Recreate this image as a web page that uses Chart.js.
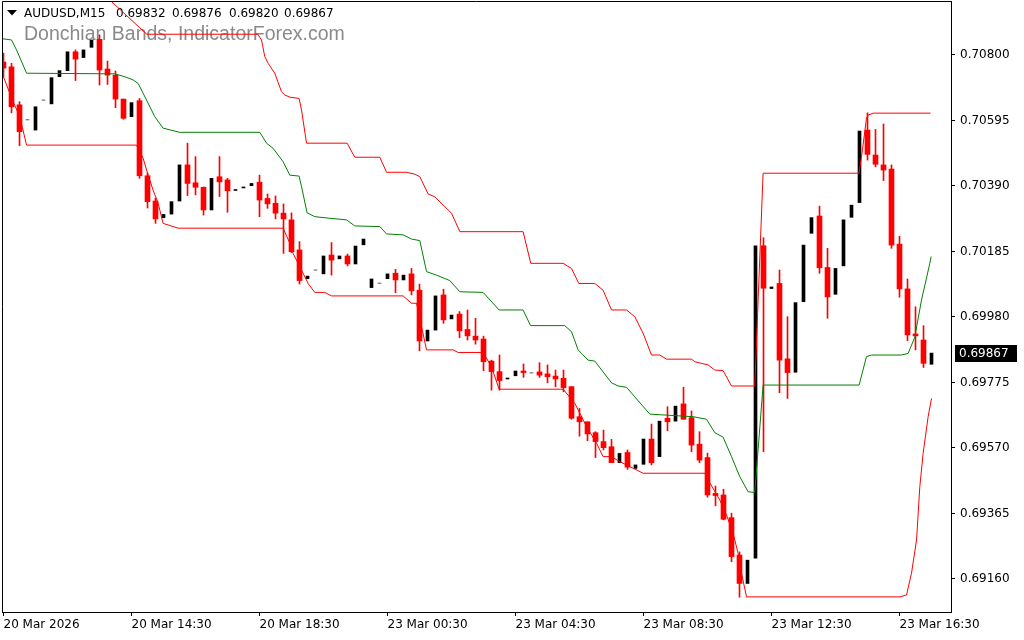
<!DOCTYPE html>
<html>
<head>
<meta charset="utf-8">
<script src="https://cdn.jsdelivr.net/npm/chart.js@4.4.1/dist/chart.umd.min.js"></script>
<style>
html,body{margin:0;padding:0;background:#fff;}
#wrap{width:1024px;height:640px;position:relative;}
</style>
</head>
<body>
<div id="wrap"><canvas id="c" width="1024" height="640"></canvas></div>
<script>
// ---- data (AUDUSD M15) ----
const symbolTitle = "AUDUSD,M15";
const headerValues = ["0.69832", "0.69876", "0.69820", "0.69867"];
const indicatorTitle = "Donchian Bands, IndicatorForex.com";

const timeTickIdx = [0, 16, 32, 48, 64, 80, 96, 112];
const timeLabels = ["20 Mar 2026", "20 Mar 14:30", "20 Mar 18:30", "23 Mar 00:30", "23 Mar 04:30", "23 Mar 08:30", "23 Mar 12:30", "23 Mar 16:30"];
const priceTicks = [0.70800, 0.70595, 0.70390, 0.70185, 0.69980, 0.69775, 0.69570, 0.69365, 0.69160];
const lastPrice = 0.69867;

const open = [0.70778,0.70763,0.70644,0.70597,0.70565,0.70659,0.70647,0.70732,0.70751,0.70810,
0.70792,0.70824,0.70849,0.70756,0.70737,0.70662,0.70607,0.70657,0.70422,0.70343,
0.70291,0.70302,0.70343,0.70456,0.70400,0.70386,0.70315,0.70419,0.70409,0.70376,
0.70384,0.70391,0.70402,0.70351,0.70336,0.70305,0.70284,0.70190,0.70100,0.70127,
0.70115,0.70174,0.70162,0.70171,0.70146,0.70206,0.70072,0.70086,0.70100,0.70117,
0.70096,0.70115,0.70064,0.69905,0.69939,0.70049,0.69974,0.69989,0.69941,0.69920,
0.69911,0.69842,0.69809,0.69786,0.69796,0.69811,0.69805,0.69808,0.69802,0.69795,
0.69788,0.69762,0.69668,0.69652,0.69618,0.69590,0.69574,0.69524,0.69556,0.69506,
0.69519,0.69598,0.69543,0.69663,0.69654,0.69708,0.69665,0.69582,0.69540,0.69428,
0.69423,0.69352,0.69235,0.69146,0.69225,0.70203,0.70069,0.70085,0.69849,0.69807,
0.70028,0.70242,0.70296,0.70135,0.70051,0.70140,0.70292,0.70338,0.70565,0.70487,
0.70456,0.70443,0.70208,0.70068,0.69927,0.69908,0.69832];
const high = [0.70806,0.70774,0.70654,0.70597,0.70638,0.70659,0.70729,0.70751,0.70810,0.70816,
0.70816,0.70847,0.70863,0.70781,0.70750,0.70662,0.70651,0.70664,0.70431,0.70352,
0.70301,0.70341,0.70456,0.70524,0.70482,0.70387,0.70414,0.70482,0.70414,0.70379,
0.70387,0.70398,0.70424,0.70365,0.70359,0.70334,0.70306,0.70216,0.70108,0.70127,
0.70171,0.70213,0.70171,0.70177,0.70202,0.70224,0.70099,0.70086,0.70115,0.70129,
0.70111,0.70132,0.70083,0.69939,0.70046,0.70067,0.69986,0.69997,0.70002,0.69976,
0.69920,0.69845,0.69861,0.69789,0.69811,0.69833,0.69805,0.69837,0.69830,0.69814,
0.69814,0.69762,0.69694,0.69652,0.69621,0.69626,0.69597,0.69553,0.69564,0.69517,
0.69598,0.69645,0.69654,0.69699,0.69701,0.69760,0.69686,0.69621,0.69554,0.69451,
0.69441,0.69366,0.69245,0.69219,0.70431,0.70228,0.70074,0.70127,0.69981,0.70025,
0.70205,0.70291,0.70327,0.70195,0.70132,0.70284,0.70330,0.70562,0.70619,0.70567,
0.70584,0.70456,0.70233,0.70099,0.70012,0.69953,0.69876];
const low = [0.70731,0.70619,0.70516,0.70597,0.70565,0.70659,0.70647,0.70732,0.70751,0.70720,
0.70792,0.70824,0.70706,0.70708,0.70635,0.70599,0.70607,0.70414,0.70321,0.70273,
0.70291,0.70302,0.70343,0.70360,0.70362,0.70299,0.70315,0.70357,0.70308,0.70376,
0.70384,0.70391,0.70294,0.70320,0.70287,0.70179,0.70182,0.70083,0.70100,0.70127,
0.70115,0.70111,0.70162,0.70140,0.70146,0.70206,0.70072,0.70086,0.70100,0.70056,
0.70096,0.70049,0.69874,0.69905,0.69939,0.69960,0.69974,0.69915,0.69908,0.69895,
0.69812,0.69751,0.69751,0.69786,0.69796,0.69791,0.69805,0.69791,0.69774,0.69762,
0.69746,0.69660,0.69607,0.69593,0.69540,0.69564,0.69524,0.69524,0.69503,0.69506,
0.69519,0.69517,0.69543,0.69624,0.69654,0.69660,0.69558,0.69524,0.69416,0.69389,
0.69345,0.69214,0.69103,0.69146,0.69225,0.69558,0.70069,0.69743,0.69725,0.69807,
0.70028,0.70242,0.70117,0.69976,0.70051,0.70140,0.70292,0.70338,0.70471,0.70450,
0.70407,0.70195,0.70042,0.69906,0.69877,0.69822,0.69820];
const close = [0.70759,0.70638,0.70560,0.70597,0.70638,0.70659,0.70729,0.70751,0.70810,0.70787,
0.70816,0.70847,0.70753,0.70737,0.70662,0.70602,0.70651,0.70422,0.70341,0.70287,
0.70301,0.70341,0.70456,0.70398,0.70386,0.70315,0.70414,0.70403,0.70375,0.70379,
0.70387,0.70398,0.70346,0.70334,0.70305,0.70287,0.70184,0.70094,0.70108,0.70127,
0.70171,0.70158,0.70171,0.70146,0.70202,0.70224,0.70099,0.70086,0.70115,0.70096,
0.70111,0.70062,0.69905,0.69939,0.70046,0.69971,0.69986,0.69937,0.69921,0.69908,
0.69840,0.69809,0.69781,0.69789,0.69811,0.69806,0.69805,0.69798,0.69793,0.69786,
0.69759,0.69663,0.69652,0.69614,0.69590,0.69571,0.69524,0.69553,0.69510,0.69517,
0.69598,0.69524,0.69654,0.69652,0.69701,0.69660,0.69579,0.69532,0.69423,0.69421,
0.69347,0.69230,0.69146,0.69219,0.70203,0.70070,0.70074,0.69845,0.69806,0.70025,
0.70205,0.70291,0.70134,0.70043,0.70132,0.70284,0.70330,0.70562,0.70489,0.70458,
0.70440,0.70205,0.70068,0.69924,0.69921,0.69835,0.69867];

// Donchian bands: bar position -> price
const upperIdx = [11,13.29,17.04,17.91,31.79,32.25,32.66,33.08,33.91,34.75,35.16,35.79,36.95,37.25,37.88,42.95,43.91,47.04,47.88,50.38,51.41,52.04,53.08,53.91,56.0,57.04,64.95,65.91,69.95,71.0,71.91,73.91,74.95,76.0,77.88,78.91,79.95,81.0,82.04,82.88,86.0,86.41,88.08,88.91,89.95,91.0,93.91,94.95,106.95,107.37,107.87,108.08,108.7,115.88];
const upperVal = [0.71028,0.70972,0.70885,0.70865,0.70865,0.70847,0.70795,0.70774,0.70743,0.70685,0.70675,0.70668,0.70664,0.70628,0.70524,0.70524,0.70480,0.70480,0.70433,0.70433,0.70427,0.70419,0.70365,0.70356,0.70305,0.70247,0.70247,0.70148,0.70148,0.70132,0.70085,0.70085,0.70064,0.70002,0.70002,0.69981,0.69929,0.69861,0.69861,0.69848,0.69848,0.69840,0.69830,0.69814,0.69812,0.69764,0.69764,0.70430,0.70430,0.70503,0.70602,0.70612,0.70618,0.70618];
const midIdx = [-0.46,1.0,1.63,2.88,13.91,15.16,16.2,16.83,17.88,18.91,19.95,22.04,32.04,32.88,33.7,34.95,35.79,36.95,37.25,37.95,38.91,40.79,42.88,43.91,47.04,47.88,49.95,51.0,52.04,52.88,54.13,55.79,57.04,59.95,61.95,64.95,65.88,70.16,71.0,71.83,73.08,73.91,76.0,76.83,77.88,78.91,80.79,86.2,87.88,88.91,89.95,91.0,92.04,93.08,93.91,94.95,106.95,107.87,108.5,112.25,113.08,113.91,114.75,115.79,115.95];
const midVal = [0.70852,0.70847,0.70816,0.70743,0.70741,0.70732,0.70722,0.70711,0.70659,0.70607,0.70571,0.70558,0.70558,0.70524,0.70508,0.70466,0.70424,0.70421,0.70388,0.70306,0.70294,0.70289,0.70284,0.70265,0.70263,0.70240,0.70237,0.70224,0.70219,0.70122,0.70111,0.70094,0.70059,0.70057,0.70002,0.70002,0.69953,0.69953,0.69934,0.69877,0.69845,0.69842,0.69774,0.69764,0.69760,0.69730,0.69676,0.69668,0.69660,0.69618,0.69604,0.69543,0.69480,0.69433,0.69431,0.69767,0.69767,0.69856,0.69861,0.69861,0.69866,0.69917,0.70033,0.70148,0.70169];
const lowerIdx = [-0.5,0,1.2,2.04,2.88,16.63,17.45,18.08,18.7,19.33,19.95,21.83,34.95,35.79,36.2,37.25,38.08,38.91,40.16,41.0,49.95,51.0,51.63,52.88,56.2,56.83,59.95,61.0,61.95,69.95,71.41,72.88,74.13,74.95,76.0,77.04,77.88,79.95,87.66,88.08,89.54,90.38,91.2,91.83,92.25,92.88,112.04,112.88,113.5,114.13,114.54,114.95,115.58,116.0];
const lowerVal = [0.70731,0.70731,0.70654,0.70607,0.70518,0.70518,0.70477,0.70424,0.70377,0.70336,0.70273,0.70258,0.70258,0.70211,0.70179,0.70127,0.70085,0.70057,0.70057,0.70046,0.70046,0.70023,0.70023,0.69877,0.69877,0.69869,0.69869,0.69824,0.69754,0.69754,0.69710,0.69637,0.69585,0.69543,0.69543,0.69527,0.69517,0.69491,0.69491,0.69470,0.69407,0.69360,0.69303,0.69240,0.69178,0.69104,0.69104,0.69110,0.69178,0.69282,0.69449,0.69553,0.69668,0.69725];

// ---- build datasets from the arrays ----
const redBody = [], redWick = [], blackBody = [];
for (let i = 0; i < open.length; i++) {
  if (close[i] < open[i]) {
    redBody.push({x: i, y: [open[i], close[i]]});
    redWick.push({x: i, y: [low[i], high[i]]});
  } else {
    blackBody.push({x: i, y: [open[i], close[i]]});
  }
}
const toPts = (xs, ys) => xs.map((x, k) => ({x: x, y: ys[k]}));

const FONT = "'DejaVu Sans', Verdana, sans-serif";

const overlay = {
  id: 'overlay',
  beforeDatasetsDraw(chart) {
    const ctx = chart.ctx;
    ctx.save();
    ctx.fillStyle = '#000';
    ctx.beginPath();
    ctx.moveTo(7, 10); ctx.lineTo(17, 10); ctx.lineTo(12, 15.5); ctx.closePath(); ctx.fill();
    ctx.font = '12px ' + FONT;
    ctx.textBaseline = 'alphabetic';
    ctx.textAlign = 'left';
    ctx.fillText(symbolTitle, 24, 17);
    const hx = [116, 172, 229, 284];
    headerValues.forEach((t, k) => ctx.fillText(t, hx[k], 17));
    ctx.fillStyle = '#8a8a8a';
    ctx.font = "19.5px 'Liberation Sans', Arial, sans-serif";
    ctx.fillText(indicatorTitle, 24, 40);
    ctx.restore();
  },
  afterDraw(chart) {
    const ctx = chart.ctx;
    const a = chart.chartArea;
    ctx.save();
    ctx.strokeStyle = '#000';
    ctx.lineWidth = 1;
    ctx.beginPath();
    ctx.moveTo(a.left + 0.5, a.bottom); ctx.lineTo(a.left + 0.5, a.top + 0.5); ctx.lineTo(a.right, a.top + 0.5);
    ctx.stroke();
    const y = Math.round(chart.scales.y.getPixelForValue(lastPrice));
    ctx.fillStyle = '#000';
    ctx.fillRect(955, y - 8, 62, 17);
    ctx.fillStyle = '#fff';
    ctx.font = '12px ' + FONT;
    ctx.textBaseline = 'middle';
    ctx.textAlign = 'left';
    ctx.fillText(lastPrice.toFixed(5), 959, y + 1);
    ctx.restore();
  }
};

new Chart(document.getElementById('c'), {
  type: 'bar',
  data: {
    datasets: [
      {type: 'line', label: 'Upper', data: toPts(upperIdx, upperVal), borderColor: '#ff0000', borderWidth: 1, pointRadius: 0, tension: 0, fill: false, order: 0},
      {type: 'line', label: 'Middle', data: toPts(midIdx, midVal), borderColor: '#008000', borderWidth: 1, pointRadius: 0, tension: 0, fill: false, order: 0},
      {type: 'line', label: 'Lower', data: toPts(lowerIdx, lowerVal), borderColor: '#ff0000', borderWidth: 1, pointRadius: 0, tension: 0, fill: false, order: 0},
      {type: 'bar', label: 'Bear body', data: redBody, backgroundColor: '#ff0000', borderWidth: 0, barThickness: 5, grouped: false, order: 1},
      {type: 'bar', label: 'Bull body', data: blackBody, backgroundColor: '#000000', borderWidth: 0, barThickness: 3, grouped: false, order: 1},
      {type: 'bar', label: 'Bear wick', data: redWick, backgroundColor: '#ff0000', borderWidth: 0, barThickness: 1, grouped: false, order: 2}
    ]
  },
  options: {
    responsive: true,
    maintainAspectRatio: false,
    animation: false,
    devicePixelRatio: 1,
    layout: {padding: {left: 2, top: 1, right: 0, bottom: 0}},
    plugins: {legend: {display: false}, tooltip: {enabled: false}},
    scales: {
      x: {
        type: 'linear',
        min: -0.1875,
        max: 118.4375,
        offset: false,
        afterBuildTicks: (s) => { s.ticks = timeTickIdx.map(v => ({value: v})); },
        afterFit: (s) => { s.height = 28; s.paddingLeft = 0; s.paddingRight = 0; },
        grid: {display: true, drawOnChartArea: false, drawTicks: true, tickLength: 4, tickColor: '#000', offset: false},
        border: {display: true, color: '#000', width: 1},
        ticks: {
          autoSkip: false, maxRotation: 0, minRotation: 0, align: 'start', padding: 2,
          color: '#000', font: {family: FONT, size: 12},
          callback: (v, i) => timeLabels[i]
        }
      },
      y: {
        type: 'linear',
        position: 'right',
        min: 0.690567,
        max: 0.709690,
        afterBuildTicks: (s) => { s.ticks = priceTicks.map(v => ({value: v})); },
        afterFit: (s) => { s.width = 73; s.paddingTop = 0; s.paddingBottom = 0; },
        grid: {display: true, drawOnChartArea: false, drawTicks: true, tickLength: 4, tickColor: '#000'},
        border: {display: true, color: '#000', width: 1},
        ticks: {
          autoSkip: false, padding: 5, color: '#000', font: {family: FONT, size: 12},
          callback: (v) => Number(v).toFixed(5)
        }
      }
    }
  },
  plugins: [overlay]
});
</script>
</body>
</html>
